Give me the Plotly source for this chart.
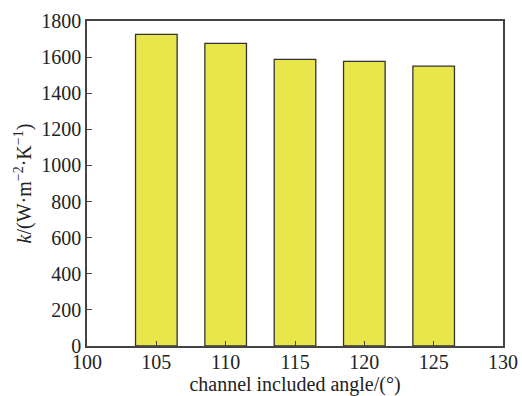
import plotly.graph_objects as go

# Heat transfer coefficient vs. channel included angle
angles = [105, 110, 115, 120, 125]
k_values = [1726, 1676, 1587, 1576, 1550]
x_ticks = [100, 105, 110, 115, 120, 125, 130]
y_ticks = [0, 200, 400, 600, 800, 1000, 1200, 1400, 1600, 1800]

font_family = "Liberation Serif, Times New Roman, serif"
axis_color = "#444444"

fig = go.Figure(
    go.Bar(
        x=angles,
        y=k_values,
        width=3,
        marker=dict(color="#E9E64C", line=dict(color="#333333", width=1.3)),
    )
)

fig.update_layout(
    width=522,
    height=396,
    margin=dict(l=87, r=19, t=21, b=50, autoexpand=False),
    plot_bgcolor="white",
    paper_bgcolor="white",
    showlegend=False,
    font=dict(family=font_family, size=20, color="#222222"),
)

fig.update_xaxes(
    range=[100, 130],
    tickvals=x_ticks,
    ticks="inside",
    ticklen=5,
    tickcolor=axis_color,
    showline=True,
    linecolor=axis_color,
    linewidth=1.5,
    mirror=True,
    showgrid=False,
    zeroline=False,
    automargin=False,
    ticklabelstandoff=-3,
    title=dict(text="channel included angle/(°)", font=dict(size=20)),
)

fig.update_yaxes(
    range=[0, 1800],
    tickvals=y_ticks,
    ticks="inside",
    ticklen=5,
    tickcolor=axis_color,
    showline=True,
    linecolor=axis_color,
    linewidth=1.5,
    mirror=True,
    showgrid=False,
    zeroline=False,
    automargin=False,
    title=dict(
        text="<i>k</i>/(W·m<sup>−2</sup>·K<sup>−1</sup>)",
        standoff=4,
        font=dict(size=20),
    ),
)

fig.write_html("out.html")
